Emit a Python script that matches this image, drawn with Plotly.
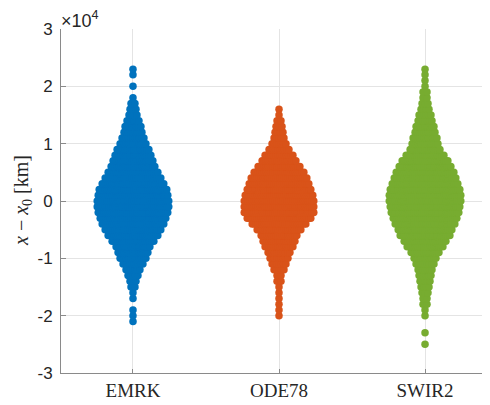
import plotly.graph_objects as go

# ---------------- data ----------------
categories = ["EMRK", "ODE78", "SWIR2"]

# bin centres of x - x0 [km]
bins_km = [-25000, -24000, -23000, -22000, -21000, -20000, -19000, -18000, -17000,
           -16000, -15000, -14000, -13000, -12000, -11000, -10000, -9000, -8000,
           -7000, -6000, -5000, -4000, -3000, -2000, -1000, 0, 1000, 2000, 3000,
           4000, 5000, 6000, 7000, 8000, 9000, 10000, 11000, 12000, 13000, 14000,
           15000, 16000, 17000, 18000, 19000, 20000, 21000, 22000, 23000]

# estimated number of samples per bin
emrk_counts = [0, 0, 0, 0, 1, 1, 1, 0, 1,
               1, 2, 3, 5, 7, 10, 13, 15, 17,
               21, 25, 28, 31, 33, 35, 36, 36, 35, 34, 31,
               28, 25, 22, 20, 18, 16, 13, 11, 9, 8, 6,
               4, 3, 2, 1, 0, 1, 0, 1, 1]

ode78_counts = [0, 0, 0, 0, 0, 1, 1, 1, 1,
                1, 1, 2, 2, 5, 7, 9, 11, 14,
                16, 18, 22, 27, 32, 35, 35, 35, 34, 32, 30,
                28, 25, 21, 17, 14, 10, 7, 5, 4, 3, 2,
                1, 1, 0, 0, 0, 0, 0, 0, 0]

swir2_counts = [1, 0, 1, 0, 0, 1, 1, 2, 2,
                3, 4, 5, 6, 7, 9, 11, 14, 18,
                21, 25, 27, 30, 32, 34, 35, 36, 36, 35, 33,
                31, 29, 26, 23, 19, 15, 13, 12, 10, 9, 7,
                6, 4, 3, 2, 2, 1, 1, 1, 1]

y_tick_vals = [-30000, -20000, -10000, 0, 10000, 20000, 30000]
y_tick_text = ["-3", "-2", "-1", "0", "1", "2", "3"]

colors = ["#0072BD", "#D95319", "#77AC30"]

# ---------------- swarm layout ----------------
HALF_WIDTH = 0.245  # max half spread in category units
all_counts = [emrk_counts, ode78_counts, swir2_counts]
nmax = max(max(c) for c in all_counts)

fig = go.Figure()
for i, (name, counts) in enumerate(zip(categories, all_counts)):
    xs, ys = [], []
    for b, n in zip(bins_km, counts):
        if n == 0:
            continue
        w = HALF_WIDTH * n / nmax
        for j in range(n):
            off = 0.0 if n == 1 else -w + 2 * w * j / (n - 1)
            xs.append(i + 1 + off)
            ys.append(b)
    fig.add_trace(go.Scatter(
        x=xs, y=ys, mode="markers", name=name,
        marker=dict(size=7.5, color=colors[i], line=dict(width=0)),
        hoverinfo="skip"))

# the page body has an 8px margin, so the figure is sized to fit the window
FIG_W, FIG_H = 482, 397
L, T, B = 53, 21, 32
plot_w = FIG_W - L

axis_col = "#8a8a8a"
grid_col = "#e4e4e4"
fig.update_layout(
    width=FIG_W, height=FIG_H,
    margin=dict(l=L, r=0, t=T, b=B, pad=0),
    paper_bgcolor="white", plot_bgcolor="white",
    showlegend=False,
    xaxis=dict(
        range=[0.507, 3.445],
        tickvals=[1, 2, 3], ticktext=categories,
        showgrid=True, gridcolor=grid_col, gridwidth=1,
        zeroline=False, automargin=False,
        showline=True, linecolor=axis_col, linewidth=1,
        ticks="inside", ticklen=4, tickcolor=axis_col,
        tickfont=dict(family="Liberation Serif", size=19, color="#262626"),
    ),
    yaxis=dict(
        range=[-30000, 30000],
        tickvals=y_tick_vals, ticktext=y_tick_text,
        showgrid=True, gridcolor=grid_col, gridwidth=1,
        zeroline=False, automargin=False,
        showline=True, linecolor=axis_col, linewidth=1,
        ticks="inside", ticklen=5, tickcolor=axis_col,
        ticklabelstandoff=4,
        tickfont=dict(family="Liberation Sans", size=17, color="#262626"),
    ),
    annotations=[
        dict(text="×10<sup>4</sup>", xref="paper", yref="paper",
             x=0.0, y=1.0, xanchor="left", yanchor="bottom", showarrow=False,
             xshift=-2, yshift=-4,
             font=dict(family="Liberation Sans", size=18, color="#262626")),
        dict(text="<i>x</i> − <i>x</i><sub>0</sub> [km]", xref="paper", yref="paper",
             x=-39 / plot_w, y=0.5, xanchor="center", yanchor="middle",
             textangle=-90, showarrow=False,
             font=dict(family="Liberation Serif", size=20, color="#262626")),
    ],
)

fig.write_html("out.html")
